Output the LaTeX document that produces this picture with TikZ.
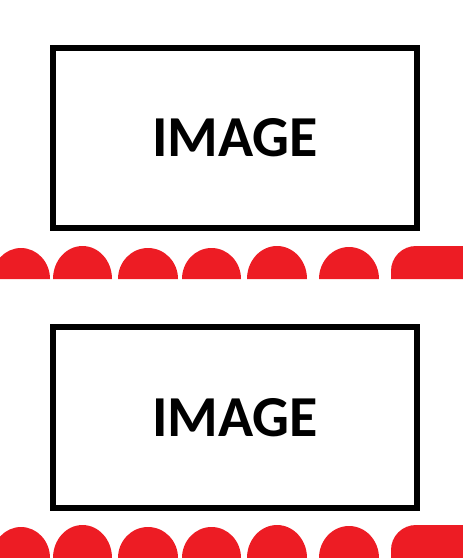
\documentclass[tikz,border=0pt]{standalone}
\usepackage{fontspec}
\setmainfont{Carlito}
\usepackage{xcolor}
\usepackage{tikz}
\usetikzlibrary{positioning,calc}

\definecolor{capred}{RGB}{237,28,36}

\tikzset{
    imgbox/.style={draw, line width=3.1pt, minimum width=7.28cm, minimum height=3.6cm, inner sep=0pt, font=\bfseries\fontsize{33}{40}\selectfont},
    dome/.style={fill=capred, draw=none}
}

\begin{document}
\begin{tikzpicture}[x=0.02cm, y=-0.02cm]
    \useasboundingbox (0,0) rectangle (463,558);

    \node[imgbox] (imgtop) at (235,138) {IMAGE};
    \node[imgbox, minimum height=3.62cm] (imgbot) at (235,417.5) {IMAGE};

    % row of red domes under each box
    \foreach \row in {279,558} {
        \foreach \cx/\rx/\ry in {21/29/31, 82.5/29.5/33, 148/30/31, 211.5/29.5/31, 277/30/33, 349/30/32} {
            \fill[dome] (\cx-\rx,\row) arc[start angle=180, end angle=360, x radius=\rx, y radius=\ry] -- cycle;
        }
        \fill[dome] (391,\row) -- (391,\row-8) arc[start angle=180, end angle=270, x radius=25, y radius=25] -- (470,\row-33) -- (470,\row) -- cycle;
    }
\end{tikzpicture}
\end{document}
